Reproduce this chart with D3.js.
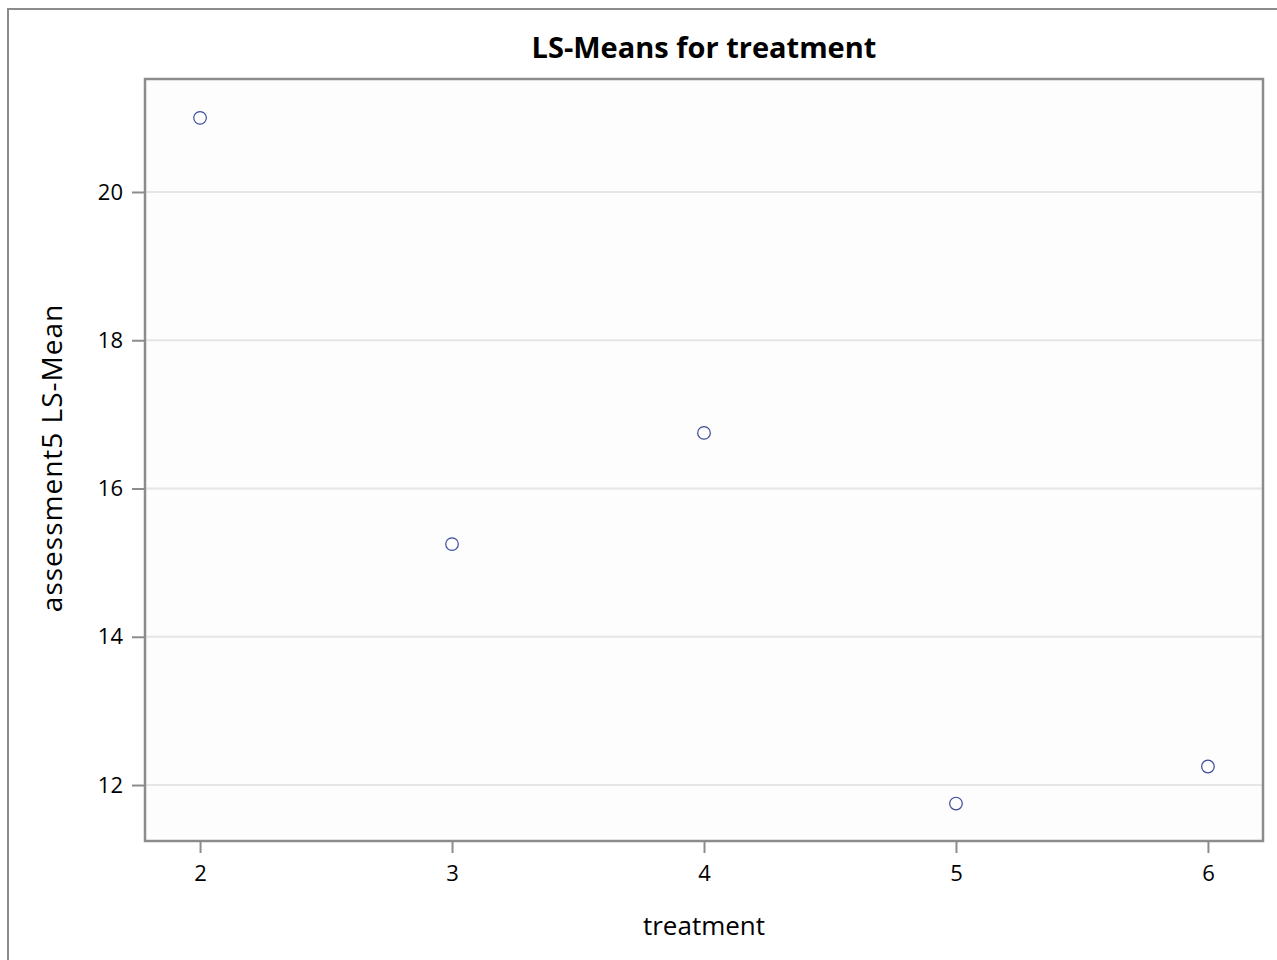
<!DOCTYPE html>
<html>
<head>
<meta charset="utf-8">
<script src="https://cdn.jsdelivr.net/npm/d3@7"></script>
<style>
  body { margin: 0; background: #fff; }
  text { font-family: "Open Sans", "Noto Sans", sans-serif; fill: #000; }
</style>
</head>
<body>
<svg id="chart"></svg>
<script>
var treatments = [2, 3, 4, 5, 6];
var lsMeans = [21.0, 15.25, 16.75, 11.75, 12.25];
var yTicks = [12, 14, 16, 18, 20];
var xTicks = [2, 3, 4, 5, 6];

var W = 1277, H = 960;
var plot = {left: 145, top: 79, right: 1263, bottom: 841};
var font = '"Open Sans", "Noto Sans", sans-serif';

var svg = d3.select('#chart').attr('width', W).attr('height', H);

// outer frame
svg.append('rect').attr('x', 8).attr('y', 9).attr('width', W + 20).attr('height', H + 20)
    .attr('fill', '#fff').attr('stroke', '#8c8c8c').attr('stroke-width', 2);

var x = d3.scaleLinear().domain([1.7815, 6.2185]).range([plot.left, plot.right]);
var y = d3.scaleLinear().domain([11.245, 21.524]).range([plot.bottom, plot.top]);

svg.append('rect').attr('x', plot.left).attr('y', plot.top)
    .attr('width', plot.right - plot.left).attr('height', plot.bottom - plot.top)
    .attr('fill', '#fdfdfd');

// grid lines
svg.append('g').selectAll('line').data(yTicks).enter().append('line')
    .attr('x1', plot.left).attr('x2', plot.right)
    .attr('y1', function(d) { return y(d); }).attr('y2', function(d) { return y(d); })
    .attr('stroke', '#e6e6e6').attr('stroke-width', 2);

// axes
var yAxis = svg.append('g').attr('transform', 'translate(' + plot.left + ',0)')
    .call(d3.axisLeft(y).tickValues(yTicks).tickFormat(d3.format('d')).tickSize(13).tickPadding(9));
var xAxis = svg.append('g').attr('transform', 'translate(0,' + plot.bottom + ')')
    .call(d3.axisBottom(x).tickValues(xTicks).tickFormat(d3.format('d')).tickSize(12).tickPadding(12));
[yAxis, xAxis].forEach(function(a) {
    a.attr('font-size', null).attr('font-family', null);
    a.select('.domain').remove();
    a.selectAll('line').attr('stroke', '#8c8c8c').attr('stroke-width', 2);
    a.selectAll('text').style('font-size', '22px').style('font-family', font).attr('fill', '#000');
});

// plot frame
svg.append('rect').attr('x', plot.left).attr('y', plot.top)
    .attr('width', plot.right - plot.left).attr('height', plot.bottom - plot.top)
    .attr('fill', 'none').attr('stroke', '#8c8c8c').attr('stroke-width', 2.5);

// points
svg.append('g').selectAll('circle').data(treatments).enter().append('circle')
    .attr('cx', function(d) { return x(d); })
    .attr('cy', function(d, i) { return y(lsMeans[i]); })
    .attr('r', 6.3)
    .attr('fill', 'none').attr('stroke', '#3b4a9a').attr('stroke-width', 1.2);

// titles
svg.append('text').attr('x', 704).attr('y', 58).attr('text-anchor', 'middle')
    .style('font-size', '29px').style('font-weight', 'bold').text('LS-Means for treatment');
svg.append('text').attr('x', 704).attr('y', 935).attr('text-anchor', 'middle')
    .style('font-size', '26px').text('treatment');
svg.append('text').attr('transform', 'translate(62,458) rotate(-90)').attr('text-anchor', 'middle')
    .style('font-size', '28px').style('letter-spacing', '1px').text('assessment5 LS-Mean');
</script>
</body>
</html>
